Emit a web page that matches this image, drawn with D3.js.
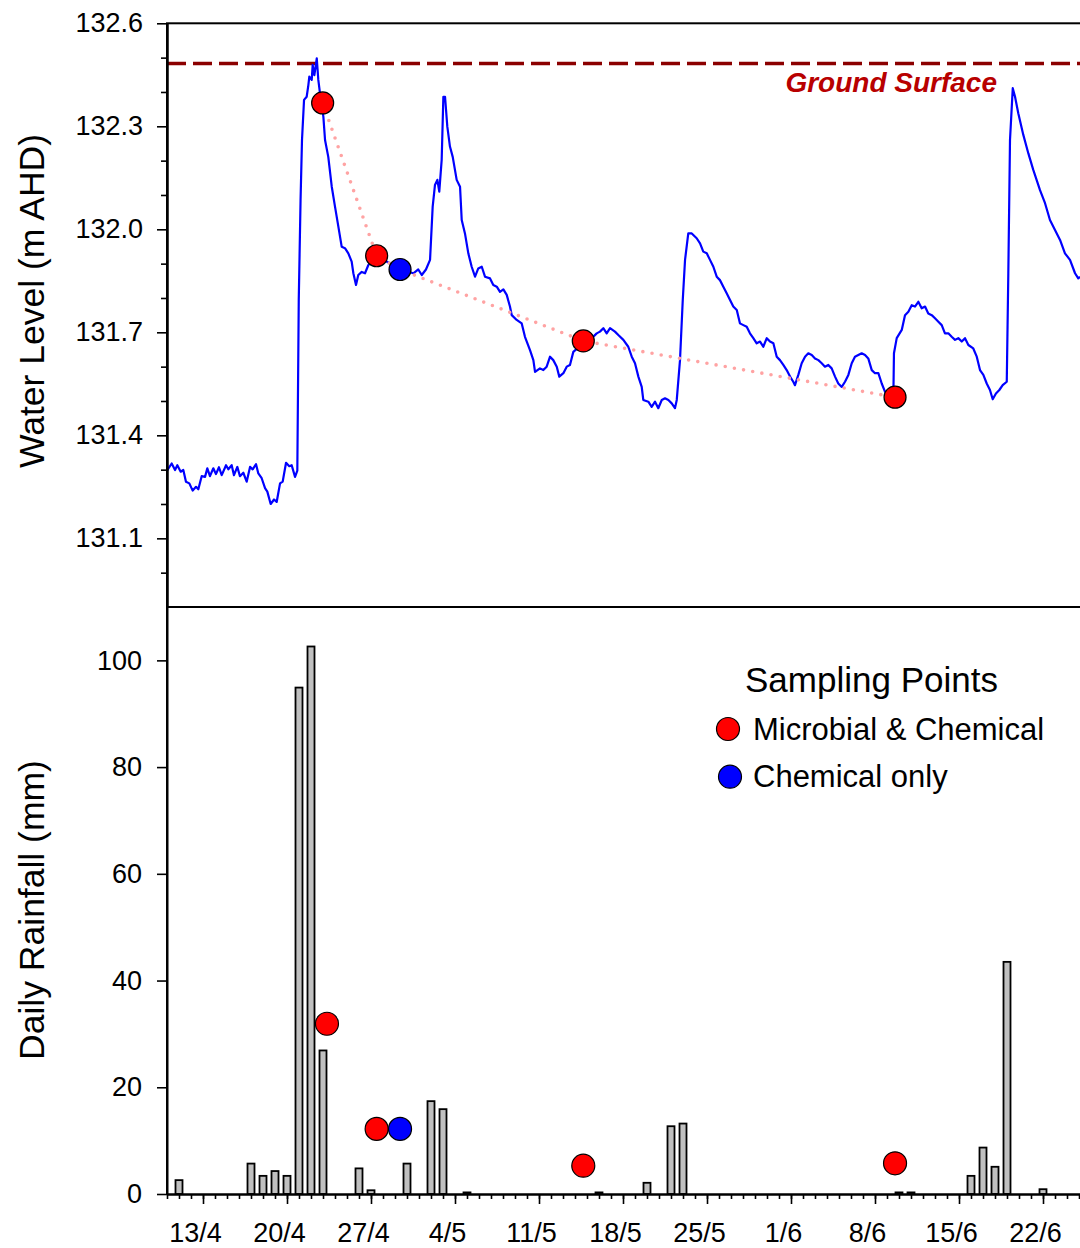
<!DOCTYPE html>
<html><head><meta charset="utf-8">
<script src="https://cdn.jsdelivr.net/npm/d3@7"></script>
<style>html,body{margin:0;padding:0;background:#fff;} svg{display:block;font-family:"Liberation Sans",Arial,sans-serif;}</style>
</head><body><svg id="chart" width="1080" height="1248"></svg>
<script>
// ---------- DATA ----------
// days since 10 April
const levelDay = [
0,0.39,0.67,0.86,1.14,1.36,1.58,1.86,2.14,2.42,2.61,2.89,3.17,3.36,3.58,3.86,4.08,4.33,4.56,4.92,
5.11,5.39,5.58,5.86,6.08,6.36,6.64,6.92,7.14,7.42,7.61,7.89,8.17,8.36,8.64,8.92,9.14,9.42,9.64,9.92,
10.19,10.39,10.67,10.86,
10.98,11.13,11.25,11.42,11.64,11.78,11.86,12.06,12.14,12.28,12.48,12.61,12.75,13.03,13.17,13.44,13.73,14.00,14.28,14.56,
14.83,15.11,15.39,15.53,15.75,15.94,16.23,16.50,16.78,17.19,17.75,18.58,19.42,20.53,20.94,21.23,21.58,21.92,
22.14,22.33,22.53,22.69,22.89,23.03,23.17,23.36,23.58,23.81,24.14,24.42,24.56,24.83,25.11,25.39,25.67,25.94,26.23,26.50,
26.92,27.19,27.48,27.75,28.03,28.31,28.58,28.73,29.14,29.56,29.83,30.25,30.53,30.67,31.08,31.36,31.64,31.92,32.19,32.48,
32.69,33.03,33.31,33.58,33.86,34.19,34.69,
35.25,35.81,36.08,36.36,36.64,36.92,37.33,37.61,38.03,38.44,38.73,39.00,39.28,39.56,39.69,40.11,40.39,40.67,40.94,41.23,
41.50,41.78,42.06,42.33,42.48,42.75,42.98,43.17,43.44,43.73,44.14,44.42,44.69,44.98,45.25,45.53,45.81,46.08,46.36,46.64,
46.92,47.19,47.48,47.75,48.03,48.31,48.58,48.86,49.14,49.42,49.69,49.98,50.25,50.53,50.81,51.08,51.36,51.64,51.92,52.19,
52.33,52.61,52.89,53.17,53.44,53.73,54.00,54.28,54.56,54.83,55.11,55.39,55.67,55.94,56.23,56.50,56.78,57.06,57.33,57.61,
57.89,58.17,58.44,58.73,59.00,59.28,59.56,59.83,60.25,60.53,
60.58,60.81,61.23,61.50,61.78,62.06,62.33,62.61,62.89,63.17,63.44,63.73,64.00,64.28,64.56,64.83,65.11,65.39,65.67,65.94,
66.23,66.50,66.78,67.19,67.48,67.75,68.03,68.31,68.58,68.81,69.08,69.36,69.64,69.98,70.11,70.25,70.48,70.67,70.94,71.36,
71.78,72.19,72.75,73.17,73.58,74.00,74.42,74.83,75.25,75.67,75.94,76.08
];
// water level, m AHD
const levelValue = [
131.297,131.318,131.299,131.313,131.294,131.299,131.265,131.260,131.239,131.250,131.243,131.281,131.279,131.304,131.281,131.304,131.287,131.307,131.284,131.313,
131.301,131.313,131.284,131.308,131.281,131.291,131.265,131.308,131.301,131.316,131.289,131.275,131.246,131.236,131.200,131.213,131.206,131.260,131.265,131.320,
131.310,131.313,131.279,131.297,
131.794,132.085,132.260,132.377,132.386,132.420,132.445,132.435,132.479,132.449,132.498,132.435,132.396,132.328,132.260,132.211,132.124,132.066,132.008,131.949,
131.945,131.930,131.906,131.872,131.838,131.867,131.876,131.872,131.896,131.916,131.916,131.901,131.883,131.872,131.883,131.867,131.883,131.911,
132.066,132.129,132.144,132.110,132.202,132.386,132.386,132.299,132.241,132.211,132.144,132.124,132.027,131.988,131.930,131.891,131.862,131.886,131.891,131.862,
131.857,131.838,131.833,131.818,131.825,131.809,131.775,131.750,131.736,131.726,131.687,131.648,131.619,131.585,131.595,131.590,131.600,131.629,131.619,131.600,
131.571,131.581,131.600,131.605,131.643,131.653,131.675,
131.678,131.697,131.702,131.712,131.697,131.712,131.702,131.692,131.678,131.658,131.629,131.610,131.571,131.541,131.503,131.498,131.483,131.498,131.479,131.503,
131.508,131.503,131.493,131.479,131.503,131.619,131.794,131.911,131.988,131.988,131.974,131.959,131.935,131.930,131.911,131.891,131.862,131.852,131.833,131.814,
131.794,131.775,131.765,131.726,131.721,131.716,131.697,131.683,131.668,131.673,131.658,131.683,131.673,131.668,131.629,131.619,131.605,131.590,131.571,131.556,
131.546,131.576,131.610,131.629,131.639,131.634,131.624,131.619,131.610,131.600,131.605,131.595,131.571,131.551,131.541,131.556,131.576,131.610,131.629,131.634,
131.639,131.634,131.624,131.590,131.581,131.581,131.551,131.527,131.522,131.512,
131.639,131.683,131.707,131.750,131.760,131.779,131.775,131.789,131.770,131.775,131.755,131.750,131.741,131.731,131.721,131.697,131.697,131.687,131.678,131.683,
131.673,131.683,131.663,131.653,131.629,131.590,131.576,131.551,131.532,131.505,131.522,131.532,131.546,131.556,131.872,132.260,132.411,132.386,132.338,132.275,
132.221,132.173,132.114,132.076,132.027,131.998,131.969,131.930,131.911,131.872,131.857,131.862
];
const groundSurface = 132.483;
const sampleDay = [12.97, 17.47, 19.42, 34.69, 60.67];
const sampleLevel = [132.368, 131.923, 131.883, 131.675, 131.511];
const sampleType = ["Microbial & Chemical","Microbial & Chemical","Chemical only","Microbial & Chemical","Microbial & Chemical"];
const rainMarkerDay = [13.33, 17.47, 19.42, 34.69, 60.67];
const rainMarkerMm = [31.9, 12.2, 12.2, 5.3, 5.75];
const rainDay = [1,7,8,9,10,11,12,13,16,17,20,22,23,25,36,40,42,43,61,62,67,68,69,70,73];
const rainMm  = [2.6,5.7,3.4,4.3,3.4,94.9,102.6,26.9,4.8,0.7,5.7,17.4,15.9,0.3,0.3,2.1,12.7,13.2,0.3,0.3,3.4,8.7,5.1,43.5,0.9];
const dateTickLabels = ["13/4","20/4","27/4","4/5","11/5","18/5","25/5","1/6","8/6","15/6","22/6"];
const levelTicks = [131.1,131.4,131.7,132.0,132.3,132.6];
const levelMinorTicks = [131.0,131.2,131.3,131.5,131.6,131.8,131.9,132.1,132.2,132.4,132.5];
const rainTicks = [0,20,40,60,80,100];
const legendItems = ["Microbial & Chemical","Chemical only"];

// ---------- SETUP ----------
const YEAR = 2009;
const t0 = Date.UTC(YEAR,3,10);
const toDate = d => new Date(t0 + d*864e5);
const parseLabel = s => { const [dd,mm] = s.split("/").map(Number); return new Date(Date.UTC(YEAR, mm-1, dd)); };
const colorOf = {"Microbial & Chemical":"#ff0000","Chemical only":"#0000ff"};

const svg = d3.select("#chart");
const L = 167, R = 1082, T1 = 23.3, B1 = 607, B2 = 1194;
const x = d3.scaleUtc().domain([toDate(0), toDate(76.25)]).range([L, R]);
const yL = d3.scaleLinear().domain([130.9, 132.6]).range([B1, T1]);
const yR = d3.scaleLinear().domain([0, 110]).range([B2, B1]);
const FONT = '"Liberation Sans",Arial,sans-serif';

svg.append("defs").append("clipPath").attr("id","clipTop")
  .append("rect").attr("x",L).attr("y",T1).attr("width",R-L).attr("height",B1-T1);

// ---------- TOP PANEL ----------
const gTop = svg.append("g");
gTop.append("line").attr("x1",L).attr("x2",R).attr("y1",yL(groundSurface)).attr("y2",yL(groundSurface))
  .attr("stroke","#8b0000").attr("stroke-width",3.5).attr("stroke-dasharray","19,7");
gTop.append("text").attr("x",997).attr("y",yL(groundSurface)+29).attr("text-anchor","end")
  .attr("font-family",FONT).attr("font-size",28).attr("font-weight","bold").attr("font-style","italic")
  .attr("fill","#b80000").text("Ground Surface");

const levelData = d3.zip(levelDay, levelValue);
gTop.append("path").datum(levelData).attr("clip-path","url(#clipTop)")
  .attr("fill","none").attr("stroke","#0000ff").attr("stroke-width",2.2).attr("stroke-linejoin","round")
  .attr("d", d3.line().x(d=>x(toDate(d[0]))).y(d=>yL(d[1])));

const samples = d3.zip(sampleDay, sampleLevel, sampleType);
gTop.append("path").datum(samples).attr("fill","none").attr("stroke","#ffa3a3").attr("stroke-width",3.6)
  .attr("stroke-linecap","round").attr("stroke-dasharray","0,9.3")
  .attr("d", d3.line().x(d=>x(toDate(d[0]))).y(d=>yL(d[1])));
gTop.selectAll("circle.s").data(samples).join("circle").attr("class","s")
  .attr("cx",d=>x(toDate(d[0]))).attr("cy",d=>yL(d[1])).attr("r",11)
  .attr("fill",d=>colorOf[d[2]]).attr("stroke","#000").attr("stroke-width",1.2);

gTop.append("rect").attr("x",L).attr("y",T1).attr("width",R-L).attr("height",B1-T1)
  .attr("fill","none").attr("stroke","#000").attr("stroke-width",2);

const yAxT = gTop.append("g").attr("transform",`translate(${L},0)`)
  .call(d3.axisLeft(yL).tickValues(levelTicks).tickSize(10).tickSizeOuter(0).tickPadding(14).tickFormat(d3.format(".1f")));
const yAxTm = gTop.append("g").attr("transform",`translate(${L},0)`)
  .call(d3.axisLeft(yL).tickValues(levelMinorTicks).tickSize(6).tickSizeOuter(0).tickFormat(""));

// ---------- BOTTOM PANEL ----------
const gBot = svg.append("g");
const rain = d3.zip(rainDay, rainMm);
gBot.selectAll("rect.bar").data(rain).join("rect").attr("class","bar")
  .attr("x",d=>x(toDate(d[0]))-3.5).attr("width",7)
  .attr("y",d=>yR(d[1])).attr("height",d=>yR(0)-yR(d[1]))
  .attr("fill","#c0c0c0").attr("stroke","#000").attr("stroke-width",1.8);

const rmarks = d3.zip(rainMarkerDay, rainMarkerMm, sampleType);
gBot.selectAll("circle.r").data(rmarks).join("circle").attr("class","r")
  .attr("cx",d=>x(toDate(d[0]))).attr("cy",d=>yR(d[1])).attr("r",11.5)
  .attr("fill",d=>colorOf[d[2]]).attr("stroke","#000").attr("stroke-width",1.2);

const yAxB = gBot.append("g").attr("transform",`translate(${L},0)`)
  .call(d3.axisLeft(yR).tickValues(rainTicks).tickSize(10).tickSizeOuter(0).tickPadding(15));

const majorDates = dateTickLabels.map(parseLabel);
const minorDates = d3.utcDay.range(toDate(0), toDate(76.3));
const xAxM = gBot.append("g").attr("transform",`translate(0,${B2})`)
  .call(d3.axisBottom(x).tickValues(minorDates).tickSize(5).tickSizeOuter(0).tickFormat(""));
const xAx = gBot.append("g").attr("transform",`translate(0,${B2})`)
  .call(d3.axisBottom(x).tickValues(majorDates).tickSize(10).tickSizeOuter(0).tickPadding(19)
    .tickFormat((d,i)=>dateTickLabels[i]));
xAx.selectAll("text").attr("dx",-8);

[yAxT,yAxTm,yAxB,xAxM,xAx].forEach(g=>{
  g.selectAll("path.domain").attr("stroke","#000").attr("stroke-width",2);
  g.selectAll(".tick line").attr("stroke","#000").attr("stroke-width",1.6);
  g.selectAll("text").attr("font-family",FONT).attr("font-size",27).attr("fill","#000");
});
gBot.append("line").attr("x1",L).attr("x2",L).attr("y1",B1).attr("y2",B2).attr("stroke","#000").attr("stroke-width",2);

svg.append("text").attr("transform",`translate(44,301) rotate(-90)`).attr("text-anchor","middle")
  .attr("font-family",FONT).attr("font-size",35.5).text("Water Level (m AHD)");
svg.append("text").attr("transform",`translate(44,910) rotate(-90)`).attr("text-anchor","middle")
  .attr("font-family",FONT).attr("font-size",35.5).text("Daily Rainfall (mm)");

const leg = svg.append("g");
leg.append("text").attr("x",745).attr("y",692).attr("font-family",FONT).attr("font-size",35).text("Sampling Points");
leg.selectAll("circle").data(legendItems).join("circle")
  .attr("cx",(d,i)=>728+i*2).attr("cy",(d,i)=>729+i*47.7).attr("r",11.5)
  .attr("fill",d=>colorOf[d]).attr("stroke","#000").attr("stroke-width",1.2);
leg.selectAll("text.item").data(legendItems).join("text").attr("class","item")
  .attr("x",753).attr("y",(d,i)=>740+i*47.3).attr("font-family",FONT).attr("font-size",31).text(d=>d);
</script></body></html>
